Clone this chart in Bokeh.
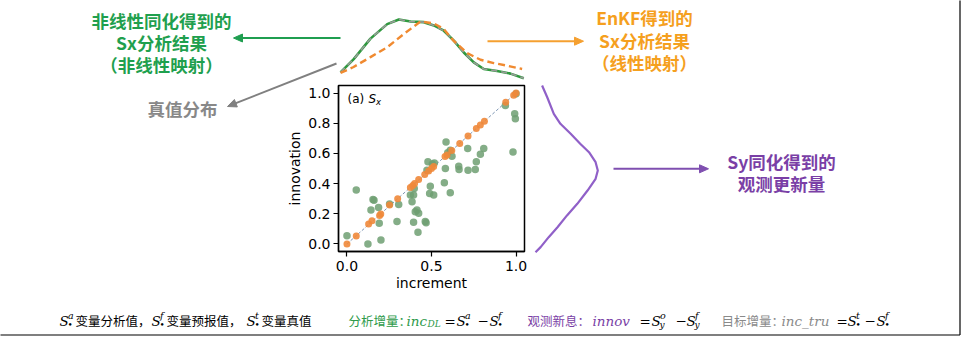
import math
from bokeh.plotting import figure
from bokeh.models import Range1d, FixedTicker, NumeralTickFormatter
from bokeh.core.properties import value
from bokeh.embed import file_html
from bokeh.resources import INLINE

# ---------------- data ----------------
# scatter (a) Sx : increment vs innovation
green_incr = [0.00, 0.055, 0.124, 0.142, 0.154, 0.16, 0.187, 0.191, 0.201, 0.252, 0.296, 0.306,
              0.375, 0.385, 0.394, 0.398, 0.394, 0.404, 0.414, 0.424, 0.42, 0.463, 0.468, 0.479,
              0.473, 0.489, 0.493, 0.513, 0.517, 0.505, 0.576, 0.582, 0.586, 0.596, 0.611, 0.611,
              0.621, 0.661, 0.663, 0.714, 0.716, 0.759, 0.765, 0.789, 0.809, 0.937, 0.982, 0.992,
              0.996, 1.00]
green_innov = [0.055, 0.357, 0.00, 0.225, 0.295, 0.29, 0.242, 0.137, 0.026, 0.264, 0.148, 0.262,
               0.324, 0.28, 0.324, 0.368, 0.143, 0.214, 0.225, 0.203, 0.077, 0.148, 0.14, 0.544,
               0.489, 0.335, 0.383, 0.324, 0.537, 0.53, 0.405, 0.50, 0.676, 0.604, 0.621, 0.339,
               0.581, 0.515, 0.493, 0.632, 0.489, 0.493, 0.544, 0.595, 0.632, 0.918, 0.610, 0.863,
               0.830, 0.996]
orange_incr = [0.00, 0.055, 0.128, 0.148, 0.193, 0.20, 0.252, 0.30, 0.375, 0.389, 0.40, 0.424,
               0.46, 0.483, 0.50, 0.513, 0.58, 0.592, 0.62, 0.667, 0.716, 0.765, 0.789, 0.813,
               0.939, 0.986, 1.00]
orange_innov = [0.00, 0.053, 0.132, 0.154, 0.189, 0.198, 0.258, 0.30, 0.374, 0.388, 0.40, 0.427,
                0.46, 0.483, 0.50, 0.513, 0.58, 0.59, 0.62, 0.665, 0.716, 0.765, 0.789, 0.813,
                0.939, 0.986, 1.00]
diag = [0.0, 1.0]

# top densities over increment (arbitrary units)
ana_x = [-0.038, 0.040, 0.139, 0.238, 0.307, 0.376, 0.454, 0.514, 0.573, 0.632, 0.691, 0.750,
         0.809, 0.888, 0.967, 1.046]
ana_d = [0.20, 0.40, 0.71, 0.93, 1.00, 0.97, 0.96, 0.91, 0.83, 0.68, 0.50, 0.35, 0.25, 0.22,
         0.18, 0.11]
tru_x = [-0.038, 0.040, 0.139, 0.238, 0.307, 0.376, 0.454, 0.514, 0.573, 0.632, 0.691, 0.750,
         0.809, 0.888, 0.967, 1.046]
tru_d = [0.20, 0.40, 0.71, 0.93, 1.00, 0.97, 0.96, 0.91, 0.83, 0.68, 0.50, 0.35, 0.25, 0.22,
         0.18, 0.11]
enkf_x = [-0.038, 0.039, 0.139, 0.238, 0.336, 0.435, 0.514, 0.571, 0.630, 0.711, 0.790, 0.868,
          0.948, 1.036]
enkf_d = [0.19, 0.28, 0.43, 0.58, 0.78, 0.97, 0.94, 0.86, 0.68, 0.49, 0.39, 0.34, 0.30, 0.25]

# right density over innovation (arbitrary units)
obs_y = [1.05, 0.972, 0.862, 0.796, 0.730, 0.664, 0.608, 0.542, 0.487, 0.432, 0.354, 0.266,
         0.189, 0.111, 0.045, -0.021, -0.055]
obs_d = [0.24, 0.31, 0.40, 0.49, 0.63, 0.76, 0.88, 0.97, 1.00, 0.97, 0.86, 0.72, 0.58, 0.45,
         0.33, 0.22, 0.15]

x_ticks = [0.0, 0.5, 1.0]
y_ticks = [0.0, 0.2, 0.4, 0.6, 0.8, 1.0]

# ---------------- layout (pixels) ----------------
W, H = 961, 337
FL, FR, FT, FB = 338, 524, 85, 251
TOP_BASE, TOP_SCALE = 85.0, 66.0
RIGHT_BASE, RIGHT_SCALE = 524.0, 73.3

GREEN = "#1fa04e"
ORANGE = "#f5a01e"
PURPLE = "#7a3fa6"
GRAY = "#888888"

p = figure(width=W, height=H, x_range=Range1d(-0.05, 1.05), y_range=Range1d(-0.05, 1.05),
           output_backend="svg", toolbar_location=None,
           min_border_left=FL, min_border_right=W - FR, min_border_top=FT, min_border_bottom=H - FB)
p.extra_x_ranges["px"] = Range1d(FL, FR)
p.extra_y_ranges["py"] = Range1d(FB, FT)
p.extra_y_ranges["dtop"] = Range1d((TOP_BASE - FB) / TOP_SCALE, (TOP_BASE - FT) / TOP_SCALE)
p.extra_x_ranges["dright"] = Range1d((FL - RIGHT_BASE) / RIGHT_SCALE, (FR - RIGHT_BASE) / RIGHT_SCALE)

p.xgrid.visible = False
p.ygrid.visible = False
p.outline_line_color = "black"
p.outline_line_width = 1.5
p.background_fill_color = "white"
p.border_fill_color = "white"

for ax in (p.xaxis[0], p.yaxis[0]):
    ax.axis_line_color = "black"
    ax.axis_line_width = 1.3
    ax.major_tick_line_color = "black"
    ax.major_tick_line_width = 1.2
    ax.major_tick_out = 5
    ax.major_tick_in = 0
    ax.minor_tick_line_color = None
    ax.major_label_text_font = "DejaVu Sans"
    ax.major_label_text_font_size = "14px"
    ax.major_label_text_color = "black"
    ax.axis_label_text_font = "DejaVu Sans"
    ax.axis_label_text_font_size = "14px"
    ax.axis_label_text_font_style = "normal"
    ax.axis_label_text_color = "black"
    ax.formatter = NumeralTickFormatter(format="0.0")
p.xaxis[0].ticker = FixedTicker(ticks=x_ticks)
p.yaxis[0].ticker = FixedTicker(ticks=y_ticks)
p.xaxis[0].axis_label = "increment"
p.yaxis[0].axis_label = "innovation"
p.xaxis[0].major_label_standoff = 4
p.yaxis[0].major_label_standoff = 3
p.xaxis[0].axis_label_standoff = 1
p.yaxis[0].axis_label_standoff = 2

# scatter
p.line(diag, diag, line_color="#5a7aa0", line_width=0.8, line_dash="3 2")
p.scatter(green_incr, green_innov, size=7.5, marker="circle", fill_color="#6f9f72",
          line_color=None, fill_alpha=0.85)
p.scatter(orange_incr, orange_innov, size=7, marker="circle", fill_color="#f0883a",
          line_color=None, fill_alpha=0.9)


def lab(x, y, text, color="black", size="13px", font="DejaVu Sans", style="normal",
        align="left"):
    p.text(x=[x], y=[y], text=[text], text_color=color, text_font_size=size,
           text_font=value(font), text_font_style=style, text_align=align,
           text_baseline="middle", x_range_name="px", y_range_name="py", level="overlay")


lab(347, 98.5, "(a)", size="12px")
lab(368, 98.5, "S", size="12px", style="italic")
lab(375.5, 101.5, "x", size="8.5px", style="italic")

# top densities
p.line(ana_x, ana_d, y_range_name="dtop", line_color="#2e9a3e", line_width=2.6, level="overlay")
p.line(tru_x, tru_d, y_range_name="dtop", line_color="#9a9a9a", line_width=1.6,
       line_dash="6 4", level="overlay")
p.line(enkf_x, enkf_d, y_range_name="dtop", line_color="#f08a30", line_width=2.4,
       line_dash="7 4", level="overlay")
# right density
p.line(obs_d, obs_y, x_range_name="dright", line_color="#9060c8", line_width=2.2, level="overlay")


# arrows: body as segment, head as filled triangle patch (overlay level)
HEAD_L, HEAD_W = 9.0, 4.0


def arr(x0, y0, x1, y1, color, w=2.0):
    dx, dy = x1 - x0, y1 - y0
    L = math.hypot(dx, dy)
    ux, uy = dx / L, dy / L
    bx, by = x1 - ux * HEAD_L, y1 - uy * HEAD_L
    nx, ny = -uy, ux
    p.segment(x0=[x0], y0=[y0], x1=[bx + ux * 2], y1=[by + uy * 2], line_color=color,
              line_width=w, x_range_name="px", y_range_name="py", level="overlay")
    p.patch(x=[x1, bx + nx * HEAD_W, bx - nx * HEAD_W], y=[y1, by + ny * HEAD_W, by - ny * HEAD_W],
            fill_color=color, line_color=color, line_width=1,
            x_range_name="px", y_range_name="py", level="overlay")


arr(340, 37.5, 233, 37.5, "#1f9e50")
arr(487, 40.7, 583, 40.7, "#f5a030")
arr(336, 63, 227, 106, "#808080")
arr(613, 168.3, 708, 168.3, "#7f4fb0")

CJK = "Noto Sans CJK SC"
FS = "17.5px"
for yy, t in zip([20, 42, 63.5], ["非线性同化得到的", "Sx分析结果", "（非线性映射）"]):
    lab(161, yy, t, color=GREEN, size=FS, font=CJK, style="bold", align="center")
for yy, t in zip([17, 40, 62], ["EnKF得到的", "Sx分析结果", "（线性映射）"]):
    lab(644, yy, t, color=ORANGE, size=FS, font=CJK, style="bold", align="center")
lab(182, 108, "真值分布", color=GRAY, size=FS, font=CJK, style="bold", align="center")
for yy, t in zip([160.5, 183], ["Sy同化得到的", "观测更新量"]):
    lab(781, yy, t, color=PURPLE, size=FS, font=CJK, style="bold", align="center")

# bottom legend line
BY = 320
SERIF = "DejaVu Serif"


def sym(x, sup, sub, color):
    lab(x, BY, "S", color=color, size="13.5px", font=SERIF, style="italic")
    lab(x + 8.5, BY - 5, sup, color=color, size="9.5px", font=SERIF, style="italic")
    lab(x + 8.0, BY + 4.5, sub, color=color, size="9px", font=SERIF, style="italic")


def cjk(x, t, color):
    lab(x, BY, t, color=color, size="12.5px", font=CJK)


sym(59, "a", "•", "black"); cjk(75, "变量分析值，", "black")
sym(151, "f", "•", "black"); cjk(166, "变量预报值，", "black")
sym(246, "t", "•", "black"); cjk(261, "变量真值", "black")
G2 = "#2e9a4a"
cjk(348, "分析增量：", G2)
lab(406, BY, "inc", color=G2, size="13.5px", font=SERIF, style="italic")
lab(427, BY + 3.5, "DL", color=G2, size="9px", font=SERIF, style="italic")
lab(444, BY, "=", color="black", size="13.5px", font=SERIF)
sym(456, "a", "•", "black")
lab(477, BY, "−", color="black", size="13.5px", font=SERIF)
sym(489, "f", "•", "black")
P2 = "#7a3fa6"
cjk(527, "观测新息：", P2)
lab(592, BY, "innov", color=P2, size="13.5px", font=SERIF, style="italic")
lab(639, BY, "=", color="black", size="13.5px", font=SERIF)
sym(651, "o", "y", "black")
lab(675, BY, "−", color="black", size="13.5px", font=SERIF)
sym(686, "f", "y", "black")
G3 = "#8a8a8a"
cjk(721, "目标增量：", G3)
lab(781, BY, "inc_tru", color=G3, size="13.5px", font=SERIF, style="italic")
lab(836, BY, "=", color="black", size="13.5px", font=SERIF)
sym(847, "t", "•", "black")
lab(864, BY, "−", color="black", size="13.5px", font=SERIF)
sym(876, "f", "•", "black")

# slide frame lines
p.segment(x0=[0, 959.5], y0=[334.5, 0], x1=[959.5, 959.5], y1=[334.5, 334.5],
          line_color="black", line_width=1.2, x_range_name="px", y_range_name="py", level="overlay")

open("out.html", "w").write(file_html(p, INLINE))
